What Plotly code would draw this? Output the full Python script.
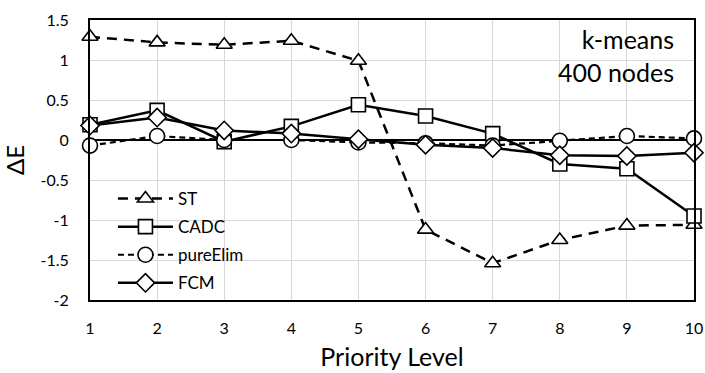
import plotly.graph_objects as go

levels = [1, 2, 3, 4, 5, 6, 7, 8, 9, 10]
st = [1.29, 1.22, 1.19, 1.24, 0.99, -1.12, -1.54, -1.25, -1.07, -1.06]
cadc = [0.19, 0.37, -0.02, 0.17, 0.44, 0.30, 0.08, -0.30, -0.36, -0.95]
pure_elim = [-0.07, 0.05, 0.0, 0.0, -0.03, -0.04, -0.07, -0.01, 0.05, 0.02]
fcm = [0.18, 0.28, 0.12, 0.08, 0.01, -0.06, -0.10, -0.19, -0.20, -0.16]

y_ticks = [1.5, 1, 0.5, 0, -0.5, -1, -1.5, -2]
y_tick_text = ["1.5", "1", "0.5", "0", "-0.5", "-1", "-1.5", "-2"]
x_tick_text = [str(v) for v in levels]

FONT = "Lato"

series = [
    ("ST", st, "triangle-up", "10px,7px", 2.5),
    ("CADC", cadc, "square", "solid", 2.5),
    ("pureElim", pure_elim, "circle", "6px,4px", 2.2),
    ("FCM", fcm, "diamond", "solid", 2.5),
]

fig = go.Figure()
for i, (name, vals, sym, dash, w) in enumerate(series):
    fig.add_trace(go.Scatter(
        x=levels, y=vals, name=name, mode="lines+markers",
        legendgroup=f"g{i}",
        line=dict(color="black", width=w, dash=dash),
        marker=dict(symbol=sym, size=15 if sym == "circle" else 14,
                    color="white", line=dict(color="black", width=1.6)),
        cliponaxis=False,
    ))

fig.add_annotation(
    x=1, y=1, xref="paper", yref="paper", xanchor="right", yanchor="top",
    xshift=-18, yshift=-2,
    text="k-means<br>400 nodes", showarrow=False, align="right",
    font=dict(family=FONT, size=25, color="black"),
)

fig.update_layout(
    width=705, height=373,
    margin=dict(l=90, r=11, t=20, b=73, autoexpand=False),
    paper_bgcolor="white", plot_bgcolor="white",
    font=dict(family=FONT, color="black"),
    showlegend=True,
    legend=dict(
        x=0.038, y=0.425, xanchor="left", yanchor="top",
        bgcolor="rgba(0,0,0,0)", font=dict(family=FONT, size=17),
        tracegroupgap=3, itemwidth=55,
    ),
    xaxis=dict(
        range=[1, 10], tickvals=levels, ticktext=x_tick_text,
        showgrid=True, gridcolor="#d9d9d9", gridwidth=1,
        showline=True, linecolor="black", linewidth=2, mirror=True,
        ticks="", ticklabelstandoff=13,
        tickfont=dict(family=FONT, size=16),
        title=dict(text="Priority Level", font=dict(family=FONT, size=25), standoff=12),
        zeroline=False, automargin=False,
    ),
    yaxis=dict(
        range=[-2, 1.5], tickvals=y_ticks, ticktext=y_tick_text,
        showgrid=True, gridcolor="#d9d9d9", gridwidth=1,
        showline=True, linecolor="black", linewidth=2, mirror=True,
        ticks="", ticklabelstandoff=16,
        tickfont=dict(family=FONT, size=16),
        title=dict(text="ΔE", font=dict(family=FONT, size=24), standoff=10),
        zeroline=True, zerolinecolor="black", zerolinewidth=2,
        automargin=False,
    ),
)

fig.write_html("out.html")
